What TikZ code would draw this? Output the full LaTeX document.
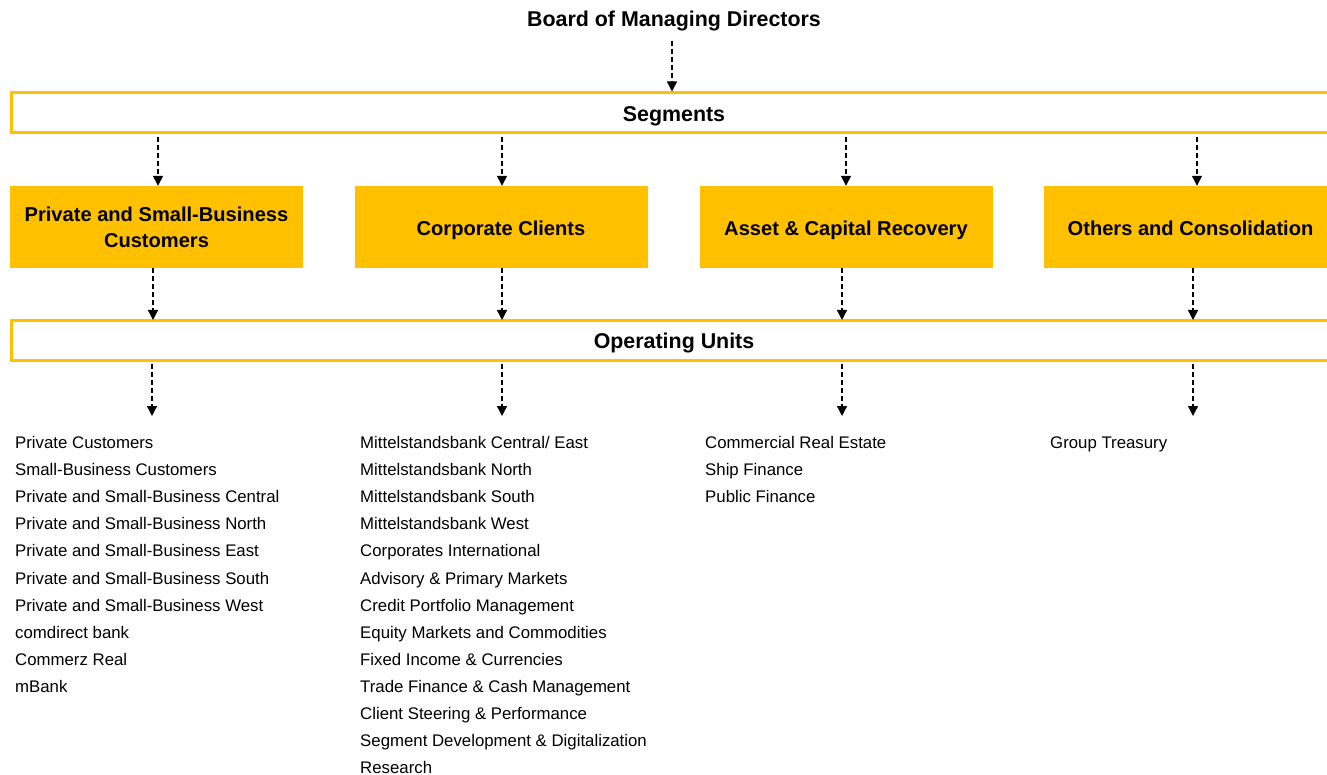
\documentclass[tikz,border=0pt]{standalone}
\usepackage{fontspec}
\setmainfont{Liberation Sans}
\usetikzlibrary{arrows.meta}
\definecolor{cbyellow}{HTML}{FFC000}
\newcommand\lowered[2]{\raisebox{-#1}[\height][\depth]{#2}}
\tikzset{
  head/.style={font=\fontsize{21.4}{26}\selectfont\bfseries, align=center},
  bar/.style={draw=cbyellow, line width=3pt, minimum width=1326pt, minimum height=40pt, inner sep=0pt, head},
  segbox/.style={fill=cbyellow, minimum width=293pt, minimum height=82pt, inner sep=0pt, head, font=\fontsize{20.1}{26}\selectfont\bfseries},
  unit/.style={font=\fontsize{16.8}{18}\selectfont, anchor=base west, inner sep=0pt},
  link/.style={line width=1.3pt, dash pattern=on 5pt off 3pt, -{Triangle[length=10pt,width=10pt]}},
}
\begin{document}
\begin{tikzpicture}[x=1pt,y=-1pt]
\useasboundingbox (0,0) rectangle (1327,775);

\node[head] (board) at (674,21) {Board of Managing Directors};
\node[bar] (seg) at (674,113) {\lowered{3pt}{Segments}};
\node[segbox] (s1) at (156.5,227) {Private and Small-Business\\Customers};
\node[segbox] (s2) at (501,227) {\lowered{3pt}{Corporate Clients}};
\node[segbox] (s3) at (846,227) {\lowered{3pt}{Asset \& Capital Recovery}};
\node[segbox] (s4) at (1190.5,227) {\lowered{1pt}{Others and Consolidation}};
\node[bar] (ou) at (674,340.5) {\lowered{3pt}{Operating Units}};

% arrow columns
\coordinate (a0) at (672,41);
\coordinate (t1) at (158,137);
\coordinate (t2) at (502,137);
\coordinate (t3) at (846,137);
\coordinate (t4) at (1197,137);
\coordinate (b1) at (153,320);
\coordinate (b2) at (502,320);
\coordinate (b3) at (842,320);
\coordinate (b4) at (1193,320);
\coordinate (l1) at (152,416);
\coordinate (l2) at (502,416);
\coordinate (l3) at (842,416);
\coordinate (l4) at (1193,416);

\path[draw,link] (a0) -- (seg.north -| a0);
\path[draw,link] (t1) -- (s1.north -| t1);
\path[draw,link] (t2) -- (s2.north -| t2);
\path[draw,link] (t3) -- (s3.north -| t3);
\path[draw,link] (t4) -- (s4.north -| t4);
\path[draw,link] (s1.south -| b1) -- (b1);
\path[draw,link] (s2.south -| b2) -- (b2);
\path[draw,link] (s3.south -| b3) -- (b3);
\path[draw,link] (s4.south -| b4) -- (b4);
\path[draw,link,shorten <=1.5pt] (ou.south -| l1) -- (l1);
\path[draw,link,shorten <=1.5pt] (ou.south -| l2) -- (l2);
\path[draw,link,shorten <=1.5pt] (ou.south -| l3) -- (l3);
\path[draw,link,shorten <=1.5pt] (ou.south -| l4) -- (l4);

% operating units
\foreach \t [count=\i from 0] in {Private Customers, Small-Business Customers,
  Private and Small-Business Central, Private and Small-Business North,
  Private and Small-Business East, Private and Small-Business South,
  Private and Small-Business West, comdirect bank, Commerz Real, mBank}
  \node[unit] (p\i) at (15,{448.5+27.1*\i}) {\t};
\foreach \t [count=\i from 0] in {Mittelstandsbank Central/ East, Mittelstandsbank North,
  Mittelstandsbank South, Mittelstandsbank West, Corporates International,
  Advisory \& Primary Markets, Credit Portfolio Management,
  Equity Markets and Commodities, Fixed Income \& Currencies,
  Trade Finance \& Cash Management, Client Steering \& Performance,
  Segment Development \& Digitalization, Research}
  \node[unit] (c\i) at (360,{448.5+27.1*\i}) {\t};
\foreach \t [count=\i from 0] in {Commercial Real Estate, Ship Finance, Public Finance}
  \node[unit] (r\i) at (705,{448.5+27.1*\i}) {\t};
\node[unit] (o0) at (1050,448.5) {Group Treasury};
\end{tikzpicture}
\end{document}
